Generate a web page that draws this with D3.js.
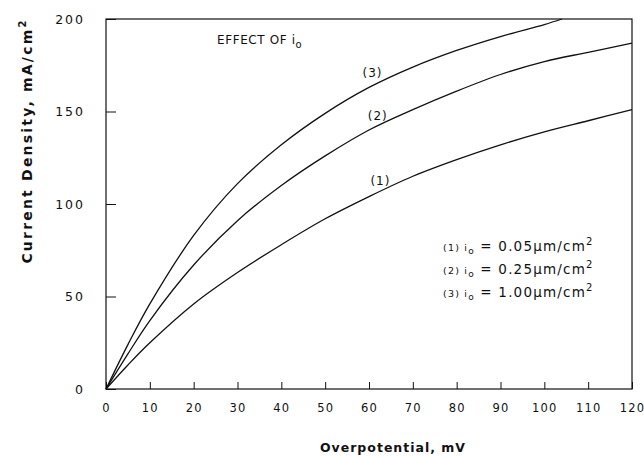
<!DOCTYPE html>
<html>
<head>
<meta charset="utf-8">
<script src="https://cdn.jsdelivr.net/npm/d3@7"></script>
<style>
  body { margin: 0; background: #fff; }
  text { font-family: "DejaVu Sans", sans-serif; fill: #111; }
</style>
</head>
<body>
<div id="chart"></div>
<script>
// data
const overpotential = [0, 5, 10, 20, 30, 40, 50, 60, 70, 80, 90, 100, 110, 120];
const current1 = [0, 13, 25, 46, 63, 78, 92, 104, 115, 124, 132, 139, 145, 151];     // io = 0.05
const current2 = [0, 19, 37, 67, 91, 110, 126, 140, 151, 161, 170, 177, 182, 187];   // io = 0.25
const overpotential3 = [0, 5, 10, 20, 30, 40, 50, 60, 70, 80, 90, 100, 104];
const current3 = [0, 24, 46, 83, 111, 132, 149, 163, 174, 183, 190.5, 197, 200];     // io = 1.00
const xTicks = [0, 10, 20, 30, 40, 50, 60, 70, 80, 90, 100, 110, 120];
const yTicks = [0, 50, 100, 150, 200];
const legendRows = [
  { n: '(1)', val: '0.05' },
  { n: '(2)', val: '0.25' },
  { n: '(3)', val: '1.00' }
];

const width = 644, height = 457;
const margin = { top: 19, right: 12, bottom: 68, left: 106 };

const svg = d3.select('#chart')
  .append('svg')
  .attr('width', width)
  .attr('height', height);

const x = d3.scaleLinear().domain([0, 120]).range([margin.left, width - margin.right]);
const y = d3.scaleLinear().domain([0, 200]).range([height - margin.bottom, margin.top]);

// frame
svg.append('rect')
  .attr('x', x(0)).attr('y', y(200))
  .attr('width', x(120) - x(0)).attr('height', y(0) - y(200))
  .attr('fill', 'none').attr('stroke', '#111').attr('stroke-width', 1.2);

// x axis, ticks pointing inward
const xAxis = svg.append('g')
  .attr('transform', `translate(0, ${y(0)})`)
  .call(d3.axisBottom(x).tickValues(xTicks).tickSizeInner(-7).tickSizeOuter(0).tickPadding(15));
xAxis.select('.domain').remove();
xAxis.selectAll('line').attr('stroke', '#111');
xAxis.selectAll('text')
  .style('font-size', '11.5px').style('letter-spacing', '1.2px')
  .style('font-family', '"DejaVu Sans", sans-serif').attr('fill', '#111');

// y axis, ticks pointing inward
const yAxis = svg.append('g')
  .attr('transform', `translate(${x(0)}, 0)`)
  .call(d3.axisLeft(y).tickValues(yTicks).tickSizeInner(-10).tickSizeOuter(0).tickPadding(21));
yAxis.select('.domain').remove();
yAxis.selectAll('line').attr('stroke', '#111');
yAxis.selectAll('text')
  .style('font-size', '12.5px').style('letter-spacing', '2px')
  .style('font-family', '"DejaVu Sans", sans-serif').attr('fill', '#111');

// curves
const line = d3.line()
  .x(d => x(d[0]))
  .y(d => y(d[1]))
  .curve(d3.curveCatmullRom.alpha(0.5));

const series = [
  d3.zip(overpotential, current1),
  d3.zip(overpotential, current2),
  d3.zip(overpotential3, current3)
];

svg.selectAll('.curve')
  .data(series)
  .enter()
  .append('path')
  .attr('class', 'curve')
  .attr('fill', 'none')
  .attr('stroke', '#111')
  .attr('stroke-width', 1.3)
  .attr('d', line);

// curve labels
const curveLabels = [
  { t: '(1)', x: 62.6, y: 112 },
  { t: '(2)', x: 62, y: 147.5 },
  { t: '(3)', x: 60.8, y: 170.5 }
];
svg.selectAll('.clabel')
  .data(curveLabels)
  .enter()
  .append('text')
  .attr('class', 'clabel')
  .attr('x', d => x(d.x))
  .attr('y', d => y(d.y))
  .attr('text-anchor', 'middle')
  .attr('dominant-baseline', 'middle')
  .style('font-size', '12px')
  .style('letter-spacing', '1px')
  .text(d => d.t);

// title inside plot
const title = svg.append('text')
  .attr('x', 217).attr('y', 44)
  .style('font-size', '12px')
  .style('letter-spacing', '0.6px');
title.append('tspan').text('EFFECT OF  i');
title.append('tspan').attr('dy', 4).style('font-size', '10px').text('o');

// legend
legendRows.forEach((r, i) => {
  const t = svg.append('text')
    .attr('x', 443).attr('y', 251 + i * 23)
    .style('letter-spacing', '1.2px');
  t.append('tspan').style('font-size', '9.5px').text(r.n + ' i');
  t.append('tspan').attr('dy', 3).style('font-size', '9px').text('o');
  t.append('tspan').attr('dy', -3).style('font-size', '13.5px').text(' = ' + r.val + 'µm/cm');
  t.append('tspan').attr('dy', -6).style('font-size', '10px').text('2');
});

// axis titles
svg.append('text')
  .attr('x', 393)
  .attr('y', 452)
  .attr('text-anchor', 'middle')
  .style('font-size', '12.5px')
  .style('font-weight', 'bold')
  .style('letter-spacing', '1px')
  .text('Overpotential, mV');

const yt = svg.append('text')
  .attr('transform', 'translate(32, 141) rotate(-90)')
  .attr('text-anchor', 'middle')
  .style('font-size', '14px')
  .style('font-weight', 'bold')
  .style('letter-spacing', '2.2px');
yt.append('tspan').text('Current Density, mA/cm');
yt.append('tspan').attr('dy', -6).style('font-size', '10px').text('2');
</script>
</body>
</html>
